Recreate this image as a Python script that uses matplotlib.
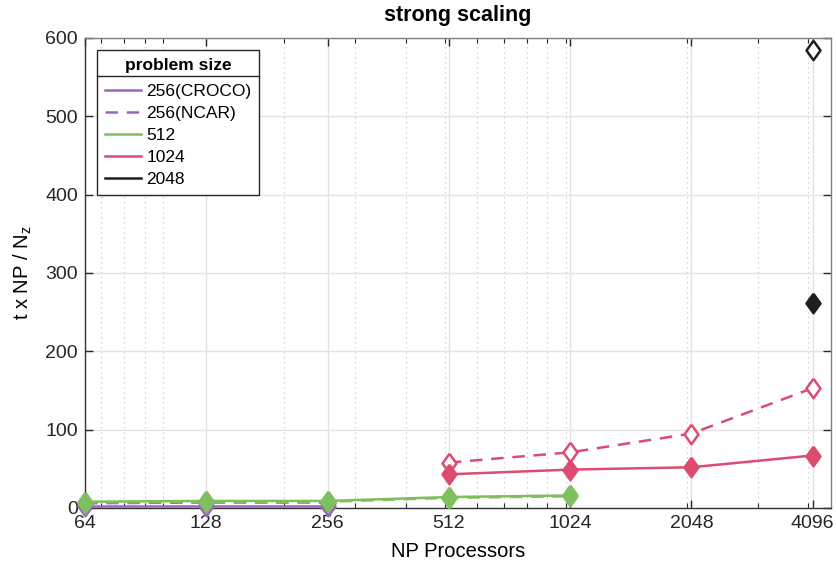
import matplotlib
matplotlib.use("Agg")
import matplotlib.pyplot as plt
from matplotlib.ticker import FixedLocator, NullFormatter
from matplotlib.lines import Line2D

plt.rcParams['font.family'] = ['Liberation Sans', 'DejaVu Sans']

# processor counts
np_256 = [64, 128, 256]
np_512 = [64, 128, 256, 512, 1024]
np_1024 = [512, 1024, 2048, 4096]
np_2048 = [4096]

# t x NP / Nz, solid = CROCO, dashed = NCAR
croco_256 = [2, 2, 2]
ncar_256 = [6, 7, 7]
croco_512 = [8, 9, 9, 14, 16]
ncar_512 = [7, 8, 8, 13, 15]
croco_1024 = [43, 49, 52, 67]
ncar_1024 = [58, 71, 95, 153]
croco_2048 = [262]
ncar_2048 = [585]

labels = ['256(CROCO)', '256(NCAR)', '512', '1024', '2048']
xticks = [64, 128, 256, 512, 1024, 2048, 4096]
yticks = [0, 100, 200, 300, 400, 500, 600]

purple = '#9966bb'
green = '#80bf5e'
red = '#dc4b70'
black = '#1e1e1e'

# diamond a bit taller than wide
diamond = [(0, 1), (0.72, 0), (0, -1), (-0.72, 0), (0, 1)]

fig = plt.figure(figsize=(8.36, 5.62), dpi=100)
ax = fig.add_axes([0.1017, 0.0961, 0.8923, 0.8363])

def series(x, y, color, dashed):
    ax.plot(x, y, linestyle='--' if dashed else '-', dashes=(5, 3.5) if dashed else (None, None),
            color=color, lw=1.8, marker=diamond, markersize=14,
            markerfacecolor='white' if dashed else color,
            markeredgecolor=color, markeredgewidth=1.8, clip_on=False, zorder=3)

series(np_256, ncar_256, purple, True)
series(np_256, croco_256, purple, False)
series(np_512, ncar_512, green, True)
series(np_512, croco_512, green, False)
series(np_1024, ncar_1024, red, True)
series(np_1024, croco_1024, red, False)
series(np_2048, ncar_2048, black, True)
series(np_2048, croco_2048, black, False)

ax.set_xscale('log', base=2)
ax.set_xlim(64, 4550)
ax.set_ylim(0, 600)
ax.set_xticks(xticks)
ax.set_xticklabels([str(v) for v in xticks])
minor = [m * d for d in (10, 100, 1000) for m in range(1, 10) if 64 < m * d < 4550]
ax.xaxis.set_minor_locator(FixedLocator(minor))
ax.xaxis.set_minor_formatter(NullFormatter())
ax.set_yticks(yticks)

ax.grid(True, which='major', color='#e3e3e3', lw=1.0, zorder=0)
ax.grid(True, which='minor', axis='x', color='#c8c8c8', lw=0.9, linestyle=(0, (1, 3)), zorder=0)
ax.set_axisbelow(True)

ax.tick_params(which='both', direction='in', top=True, right=True,
               labelsize=14, colors='#262626')
ax.tick_params(which='major', length=6, width=1)
ax.tick_params(which='minor', length=3.5, width=0.8)
ax.tick_params(axis='x', which='major', pad=5)
ax.tick_params(axis='y', which='major', pad=5)
for s in ('left', 'bottom'):
    ax.spines[s].set_color('#333333')
for s in ('top', 'right'):
    ax.spines[s].set_color('#808080')
for s in ax.spines.values():
    s.set_linewidth(1.0)

ax.set_title('strong scaling', fontsize=15.5, fontweight='bold', pad=12)
ax.set_xlabel('NP Processors', fontsize=14.5, labelpad=7)
ax.set_ylabel('t x NP / N$_\\mathregular{z}$', fontsize=14.5, labelpad=8)

handles = [
    Line2D([], [], color=purple, lw=1.8),
    Line2D([], [], color=purple, lw=1.8, linestyle='--', dashes=(5, 3.5)),
    Line2D([], [], color=green, lw=1.8),
    Line2D([], [], color=red, lw=1.8),
    Line2D([], [], color=black, lw=1.8),
]
leg = ax.legend(handles, labels, title='problem size', loc='upper left',
                bbox_to_anchor=(0.016, 0.9745), fontsize=12.5, frameon=True,
                fancybox=False, framealpha=1, edgecolor='#262626',
                handlelength=2.1, handletextpad=0.3, labelspacing=0.4,
                borderpad=0.45, borderaxespad=0.0)
leg.get_title().set_fontweight('bold')
leg.get_title().set_fontsize(12.5)
leg.get_frame().set_linewidth(1.0)
# room between the title and the entries for the rule
leg._legend_box.sep = 8

# rule between legend title and entries
fig.canvas.draw()
fb = leg.get_frame().get_window_extent()
tb = leg.get_title().get_window_extent()
ysep = tb.y0 - 3
inv = fig.transFigure.inverted()
(x0, y0) = inv.transform((fb.x0, ysep))
(x1, _) = inv.transform((fb.x1, ysep))
fig.add_artist(Line2D([x0, x1], [y0, y0], color='#262626', lw=1.0,
                      transform=fig.transFigure, zorder=10))

fig.savefig('out.png', dpi=100)
